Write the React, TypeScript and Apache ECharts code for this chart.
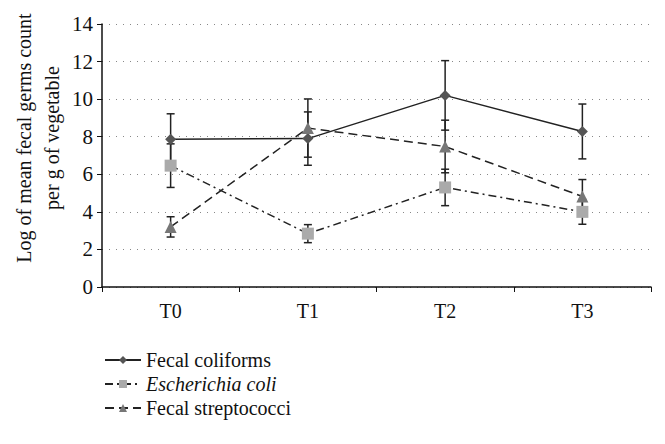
import React, { useEffect, useRef } from "react";
import * as echarts from "echarts";

const categories = ["T0", "T1", "T2", "T3"];
const coliforms = [7.87, 7.9, 10.2, 8.28];
const coliformsErr = [1.35, 1.42, 1.85, 1.46];
const ecoli = [6.46, 2.84, 5.3, 4.0];
const ecoliErr = [1.16, 0.48, 0.97, 0.66];
const strep = [3.2, 8.46, 7.48, 4.82];
const strepErr = [0.54, 1.55, 1.4, 0.9];
const yTicks = [0, 2, 4, 6, 8, 10, 12, 14];

const FONT = "Liberation Serif";

function errData(vals: number[], errs: number[]) {
  return vals.map((v, i) => [i, v - errs[i], v + errs[i]]);
}

function errSeries(name: string, vals: number[], errs: number[]) {
  return {
    type: "custom",
    name: name + " err",
    data: errData(vals, errs),
    z: 1,
    silent: true,
    renderItem: (params: any, api: any) => {
      const x = api.value(0);
      const lo = api.coord([x, api.value(1)]);
      const hi = api.coord([x, api.value(2)]);
      const w = 4;
      const style = { stroke: "#222", lineWidth: 1.5 };
      return {
        type: "group",
        children: [
          { type: "line", shape: { x1: lo[0], y1: lo[1], x2: hi[0], y2: hi[1] }, style },
          { type: "line", shape: { x1: lo[0] - w, y1: lo[1], x2: lo[0] + w, y2: lo[1] }, style },
          { type: "line", shape: { x1: hi[0] - w, y1: hi[1], x2: hi[0] + w, y2: hi[1] }, style },
        ],
      };
    },
  };
}

export default function App() {
  const ref = useRef<HTMLDivElement>(null);
  useEffect(() => {
    const chart = echarts.init(ref.current!, null, { renderer: "svg" });
    chart.setOption({
      animation: false,
      backgroundColor: "#fff",
      textStyle: { fontFamily: FONT },
      grid: { left: 102, right: 14, top: 24, bottom: 157 },
      legend: {
        orient: "vertical",
        left: 99,
        top: 345,
        itemGap: 4,
        itemWidth: 36,
        itemHeight: 10,
        data: ["Fecal coliforms", "Escherichia coli", "Fecal streptococci"],
        formatter: (n: string) => (n === "Escherichia coli" ? "{i|Escherichia coli}" : n),
        textStyle: {
          fontFamily: FONT,
          fontSize: 20,
          color: "#111",
          rich: { i: { fontStyle: "italic", fontFamily: FONT, fontSize: 20, color: "#111" } },
        },
      },
      xAxis: {
        type: "category",
        data: categories,
        boundaryGap: true,
        axisLine: { lineStyle: { color: "#111", width: 1.5 } },
        axisTick: { show: true, inside: false, length: 5, lineStyle: { color: "#111" } },
        axisLabel: { fontFamily: FONT, fontSize: 20, color: "#111", margin: 14 },
      },
      yAxis: {
        type: "value",
        min: yTicks[0],
        max: yTicks[yTicks.length - 1],
        interval: 2,
        axisLine: { show: true, lineStyle: { color: "#111", width: 1.5 } },
        axisTick: { show: true, length: 5, lineStyle: { color: "#111" } },
        axisLabel: { fontFamily: FONT, fontSize: 21, color: "#111", margin: 9 },
        splitLine: { show: true, lineStyle: { color: "#888", type: [1, 6], width: 1 } },
      },
      graphic: [
        {
          type: "text",
          x: 38,
          y: 138,
          rotation: Math.PI / 2,
          style: {
            text: "Log of mean fecal germs count\nper g of vegetable",
            font: `20px "${FONT}"`,
            fill: "#111",
            align: "center",
            verticalAlign: "middle",
            lineHeight: 28,
          },
        },
      ],
      series: [
        errSeries("Fecal coliforms", coliforms, coliformsErr),
        errSeries("Escherichia coli", ecoli, ecoliErr),
        errSeries("Fecal streptococci", strep, strepErr),
        {
          type: "line",
          name: "Fecal coliforms",
          data: coliforms,
          symbol: "diamond",
          symbolSize: 11,
          z: 3,
          itemStyle: { color: "#555" },
          lineStyle: { color: "#222", width: 1.5, type: "solid" },
        },
        {
          type: "line",
          name: "Escherichia coli",
          data: ecoli,
          symbol: "rect",
          symbolSize: 12,
          z: 3,
          itemStyle: { color: "#aaa" },
          lineStyle: { color: "#222", width: 1.5, type: [8, 4, 2, 4] },
        },
        {
          type: "line",
          name: "Fecal streptococci",
          data: strep,
          symbol: "triangle",
          symbolSize: 12,
          z: 3,
          itemStyle: { color: "#777" },
          lineStyle: { color: "#222", width: 1.5, type: [9, 5] },
        },
      ],
    });
    return () => chart.dispose();
  }, []);
  return (
    <div
      ref={ref}
      style={{ position: "absolute", left: 0, top: 0, width: 665, height: 444 }}
    />
  );
}
